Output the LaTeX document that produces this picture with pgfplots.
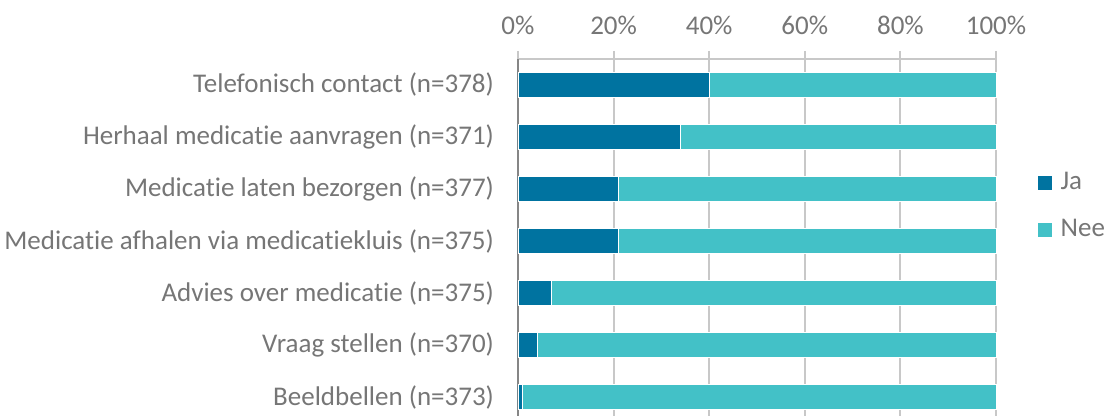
\documentclass[border=0pt]{standalone}
\usepackage{fontspec}
\setmainfont{Carlito}[Ligatures={NoCommon}]
\usepackage{pgfplots}
\pgfplotsset{compat=1.18}
\definecolor{jac}{RGB}{0,115,160}
\definecolor{neec}{RGB}{67,193,199}
\definecolor{gridc}{RGB}{200,200,200}
\definecolor{axc}{RGB}{134,134,134}
\definecolor{textc}{RGB}{118,118,118}
\begin{document}
\begin{tikzpicture}
\begin{axis}[
  scale only axis, width=239pt, height=178.5pt,
  xbar stacked, bar width=12.5pt,
  xmin=0, xmax=100, ymin=-0.365, ymax=6.5,
  axis x line*=top, axis y line*=left,
  x axis line style={draw=gridc, line width=1pt, -},
  y axis line style={draw=axc, line width=1pt, -},
  xtick={0,20,...,100},
  xticklabel={\pgfmathprintnumber{\tick}\%},
  /pgf/number format/assume math mode=true,
  xmajorgrids, major grid style={draw=gridc, line width=1pt},
  xtick style={draw=gridc, line width=1pt},
  tick align=outside, major tick length=4pt,
  ytick={0,...,6},
  yticklabels={Beeldbellen (n=373), Vraag stellen (n=370), Advies over medicatie (n=375), Medicatie afhalen via medicatiekluis (n=375), Medicatie laten bezorgen (n=377), Herhaal medicatie aanvragen (n=371), Telefonisch contact (n=378)},
  ytick style={draw=none},
  ticklabel style={font=\fontsize{13.5pt}{16pt}\selectfont, text=textc},
  yticklabel style={xshift=-4.5pt},
  xticklabel style={yshift=4.5pt},
  legend style={at={(1.085,0.588)}, anchor=west, draw=none, fill=none,
    font=\fontsize{13.5pt}{16pt}\selectfont, text=textc, row sep=10.5pt,
    inner sep=0pt, nodes={inner sep=1.5pt},
    /tikz/every odd column/.append style={column sep=2.5pt}},
  legend image code/.code={\fill[#1] (0pt,-3.75pt) rectangle (7.5pt,3.75pt);},
  legend cell align=left,
  clip=false,
]
\addplot[fill=jac, draw=white, line width=0.3pt] coordinates {(1,0) (4,1) (7,2) (21,3) (21,4) (34,5) (40,6)};
\addplot[fill=neec, draw=white, line width=0.3pt] coordinates {(99,0) (96,1) (93,2) (79,3) (79,4) (66,5) (60,6)};
\legend{Ja, Nee}
\coordinate (bl) at (rel axis cs:0,0);
\end{axis}
\pgfresetboundingbox
\path (bl) ++(-259pt,0) rectangle ++(554pt,208pt);
\end{tikzpicture}
\end{document}
